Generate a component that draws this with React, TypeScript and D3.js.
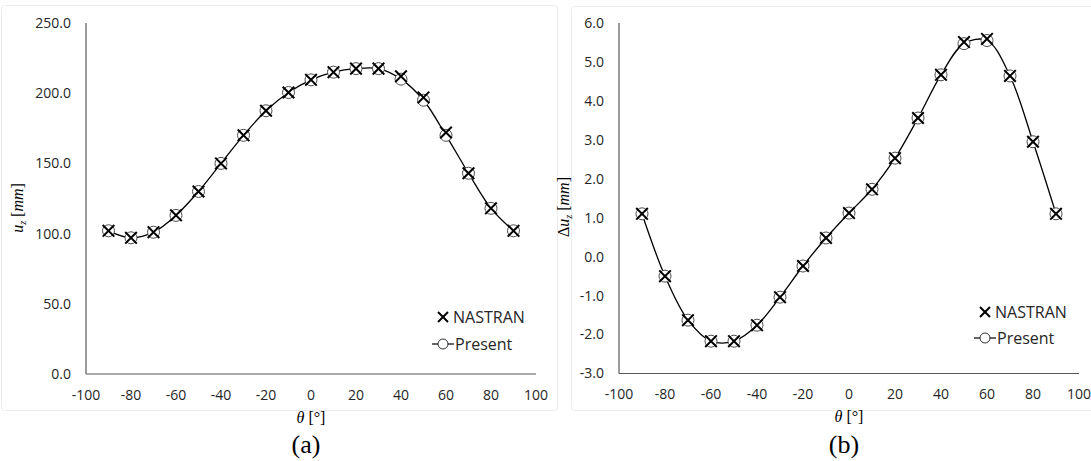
import React from "react";
import * as d3 from "d3";

const thetas = [-90, -80, -70, -60, -50, -40, -30, -20, -10, 0, 10, 20, 30, 40, 50, 60, 70, 80, 90];
const uzNastran = [102, 97, 101, 113, 130, 150, 170, 187.5, 200.5, 209.5, 215, 217.5, 217.5, 212, 197, 172, 143, 118, 102];
const uzPresent = [102, 97, 101, 113, 130, 150, 170, 187.5, 200.5, 209.5, 215, 217.5, 217.5, 210, 195, 170, 143, 118, 102];
const duNastran = [1.1, -0.5, -1.63, -2.17, -2.17, -1.76, -1.04, -0.24, 0.48, 1.12, 1.73, 2.53, 3.56, 4.67, 5.51, 5.59, 4.64, 2.95, 1.1];
const duPresent = [1.1, -0.5, -1.63, -2.17, -2.17, -1.76, -1.04, -0.24, 0.48, 1.12, 1.73, 2.53, 3.56, 4.67, 5.47, 5.55, 4.64, 2.95, 1.1];
const xTicks = [-100, -80, -60, -40, -20, 0, 20, 40, 60, 80, 100];
const uzTicks = [0, 50, 100, 150, 200, 250];
const duTicks = [-3, -2, -1, 0, 1, 2, 3, 4, 5, 6];
const legendLabels = ["NASTRAN", "Present"];

const SANS = "'Open Sans', 'Noto Sans', sans-serif";
const SERIF = "'Liberation Serif', 'DejaVu Serif', serif";

type PanelProps = {
  frame: [number, number, number, number];
  plot: [number, number, number, number];
  yDomain: [number, number];
  yTicks: number[];
  nastran: number[];
  present: number[];
  legend: [number, number];
  legendGap: number;
  yLabelX: number;
  yLabelY: number;
  delta: boolean;
  caption: string;
};

function Panel(p: PanelProps) {
  const [x0, x1, yT, yB] = p.plot;
  const x = d3.scaleLinear().domain([-100, 100]).range([x0, x1]);
  const y = d3.scaleLinear().domain(p.yDomain).range([yB, yT]);
  const line = d3
    .line<number>()
    .x((_, i) => x(thetas[i]))
    .y((v) => y(v))
    .curve(d3.curveCatmullRom.alpha(0.5));
  const cross = (cx: number, cy: number, s: number, key?: any) => (
    <g key={key} stroke="#000" strokeWidth={2}>
      <line x1={cx - s} y1={cy - s} x2={cx + s} y2={cy + s} />
      <line x1={cx - s} y1={cy + s} x2={cx + s} y2={cy - s} />
    </g>
  );
  const [lx, ly] = p.legend;
  const cx = (x0 + x1) / 2;
  return (
    <g>
      <rect
        x={p.frame[0]}
        y={p.frame[1]}
        width={p.frame[2]}
        height={p.frame[3]}
        rx={3}
        fill="none"
        stroke="#ececec"
        strokeWidth={1}
      />
      <line x1={x0} x2={x0} y1={yT} y2={yB} stroke="#595959" strokeWidth={1.2} />
      <line x1={x0} x2={x1} y1={yB} y2={yB} stroke="#595959" strokeWidth={1.2} />
      {p.yTicks.map((t) => (
        <text
          key={"y" + t}
          x={x0 - 15}
          y={y(t)}
          dy="0.35em"
          textAnchor="end"
          fontFamily={SANS}
          fontSize={14}
          fill="#262626"
        >
          {t.toFixed(1)}
        </text>
      ))}
      {xTicks.map((t) => (
        <text
          key={"x" + t}
          x={x(t)}
          y={yB + 21}
          dy="0.35em"
          textAnchor="middle"
          fontFamily={SANS}
          fontSize={14}
          fill="#262626"
        >
          {t}
        </text>
      ))}
      <path d={line(p.present) || ""} fill="none" stroke="#000" strokeWidth={1.3} />
      {p.present.map((v, i) => (
        <circle key={"c" + i} cx={x(thetas[i])} cy={y(v)} r={6} fill="#fff" stroke="#4d4d4d" strokeWidth={1} />
      ))}
      {p.nastran.map((v, i) => cross(x(thetas[i]), y(v), 5.8, "n" + i))}
      {cross(lx, ly, 5)}
      <text x={lx + 10} y={ly} dy="0.35em" fontFamily={SANS} fontSize={16} fill="#262626">
        {legendLabels[0]}
      </text>
      <line x1={lx - 11} x2={lx + 11} y1={ly + p.legendGap} y2={ly + p.legendGap} stroke="#000" strokeWidth={1.2} />
      <circle cx={lx} cy={ly + p.legendGap} r={5} fill="#fff" stroke="#333" strokeWidth={1} />
      <text x={lx + 12} y={ly + p.legendGap} dy="0.35em" fontFamily={SANS} fontSize={16} fill="#262626">
        {legendLabels[1]}
      </text>
      <text
        transform={`translate(${p.yLabelX},${p.yLabelY}) rotate(-90)`}
        textAnchor="middle"
        fontFamily={SERIF}
        fontSize={16}
        fill="#000"
      >
        {p.delta ? <tspan>Δ</tspan> : null}
        <tspan fontStyle="italic">u</tspan>
        <tspan fontStyle="italic" fontSize={10} dy={3}>z</tspan>
        <tspan dy={-3}> [</tspan>
        <tspan fontStyle="italic">mm</tspan>
        <tspan>]</tspan>
      </text>
      <text x={cx} y={yB + 43} dy="0.35em" textAnchor="middle" fontFamily={SERIF} fontSize={16} fill="#000">
        <tspan fontStyle="italic">θ</tspan>
        <tspan> [°]</tspan>
      </text>
      <text x={cx - 5} y={453} textAnchor="middle" fontFamily={SERIF} fontSize={26} fill="#000">
        {p.caption}
      </text>
    </g>
  );
}

export default function App() {
  return (
    <svg width={1091} height={461} style={{ position: "absolute", left: 0, top: 0, background: "#fff" }}>
      <Panel
        frame={[1.5, 5.5, 556, 405]}
        plot={[86, 536, 23, 374]}
        yDomain={[0, 250]}
        yTicks={uzTicks}
        nastran={uzNastran}
        present={uzPresent}
        legend={[443, 317]}
        legendGap={27}
        yLabelX={23}
        yLabelY={208}
        delta={false}
        caption="(a)"
      />
      <Panel
        frame={[571.5, 6.5, 525, 404]}
        plot={[619, 1079, 23, 373.5]}
        yDomain={[-3, 6]}
        yTicks={duTicks}
        nastran={duNastran}
        present={duPresent}
        legend={[985, 312]}
        legendGap={26}
        yLabelX={569}
        yLabelY={207}
        delta={true}
        caption="(b)"
      />
    </svg>
  );
}
